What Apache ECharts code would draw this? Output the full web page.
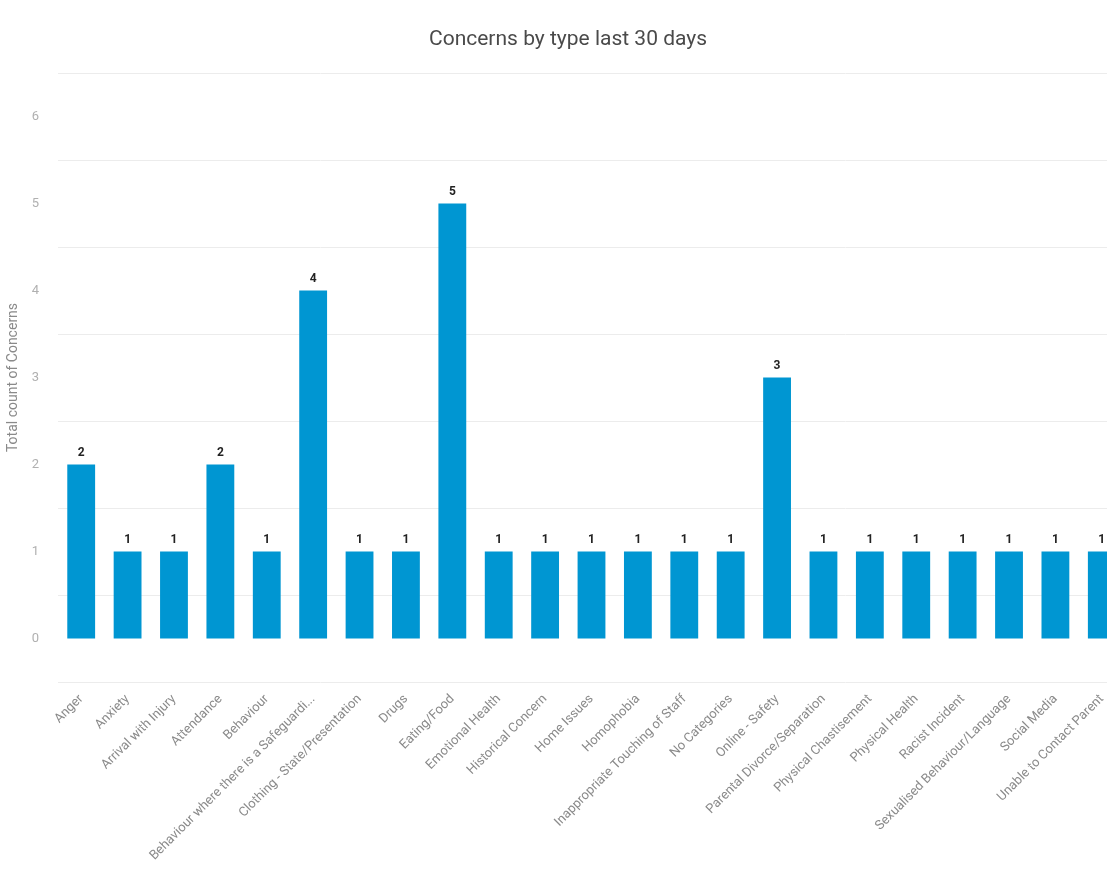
<!DOCTYPE html>
<html>
<head>
<meta charset="utf-8">
<script src="https://cdn.jsdelivr.net/npm/echarts@6/dist/echarts.min.js"></script>
<style>html,body{margin:0;padding:0;background:#fff;}#c{width:1107px;height:879px;}</style>
</head>
<body>
<div id="c"></div>
<script>
const categories = [
  "Anger", "Anxiety", "Arrival with Injury", "Attendance", "Behaviour",
  "Behaviour where there is a Safeguardi...", "Clothing - State/Presentation", "Drugs",
  "Eating/Food", "Emotional Health", "Historical Concern", "Home Issues", "Homophobia",
  "Inappropriate Touching of Staff", "No Categories", "Online - Safety",
  "Parental Divorce/Separation", "Physical Chastisement", "Physical Health",
  "Racist Incident", "Sexualised Behaviour/Language", "Social Media", "Unable to Contact Parent"
];
const counts = [2, 1, 1, 2, 1, 4, 1, 1, 5, 1, 1, 1, 1, 1, 1, 3, 1, 1, 1, 1, 1, 1, 1];
const titleText = "Concerns by type last 30 days";
const yAxisName = "Total count of Concerns";

const chart = echarts.init(document.getElementById('c'));
const font = "Roboto, 'Noto Sans', sans-serif";
chart.setOption({
  animation: false,
  textStyle: { fontFamily: font },
  title: {
    text: titleText, left: 424, top: 24,
    textStyle: { fontSize: 21, fontWeight: 'normal', color: '#4a4a4a', fontFamily: font }
  },
  grid: { left: 58, right: -18, top: 73, bottom: 197, containLabel: false, outerBoundsMode: 'none' },
  xAxis: {
    type: 'category', data: categories,
    axisLine: { show: false }, axisTick: { show: false },
    axisLabel: { rotate: 45, interval: 0, color: '#8a8a8a', fontSize: 13, margin: 15 }
  },
  yAxis: [
    {
      type: 'value', min: -0.5, max: 6.5, interval: 1, position: 'left',
      axisLabel: { show: false }, axisLine: { show: false }, axisTick: { show: false },
      splitLine: { lineStyle: { color: '#ececec', width: 1 } }
    },
    {
      type: 'value', min: -0.5, max: 6.5, interval: 0.5, position: 'left',
      name: yAxisName, nameLocation: 'middle', nameGap: 35, nameRotate: 90,
      nameTextStyle: { color: '#8a8a8a', fontSize: 14 },
      axisLine: { show: false }, axisTick: { show: false }, splitLine: { show: false },
      axisLabel: {
        color: '#b0b0b0', fontSize: 13, margin: 19, verticalAlign: 'top', padding: [-6, 0, 0, 0],
        formatter: v => (Math.abs(v - Math.round(v)) < 1e-9 ? String(Math.round(v)) : '')
      }
    }
  ],
  series: [{
    type: 'bar', data: counts, yAxisIndex: 0, barWidth: '60%',
    itemStyle: { color: '#0096d2' },
    label: { show: true, position: 'top', distance: 6, color: '#222', fontWeight: 'bold', fontSize: 12 }
  }]
});
</script>
</body>
</html>
